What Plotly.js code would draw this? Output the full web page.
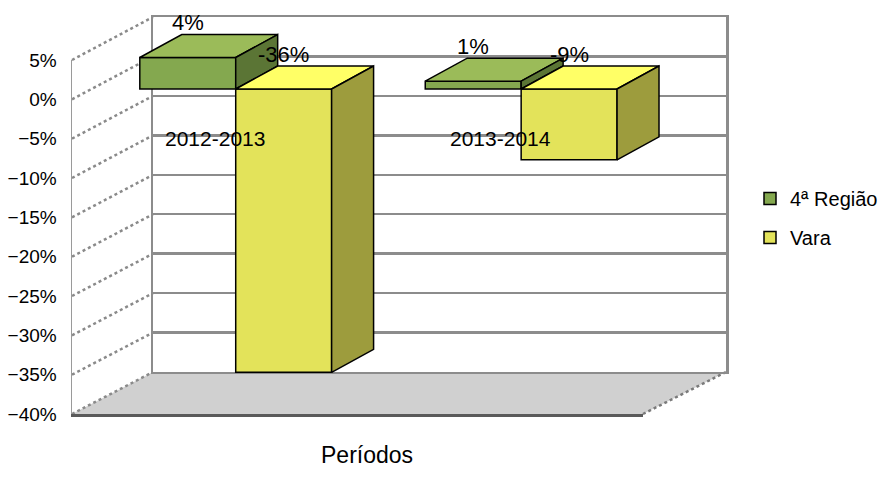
<!DOCTYPE html>
<html>
<head>
<meta charset="utf-8">
<script src="https://cdn.plot.ly/plotly-3.0.1.min.js"></script>
<style>html,body{margin:0;padding:0;background:#fff;}#chart{width:887px;height:479px;}</style>
</head>
<body>
<div id="chart"></div>
<script>
// ---- data ----
const categories = ['2012-2013', '2013-2014'];
const seriesNames = ['4ª Região', 'Vara'];
const regiao = [4, 1];
const vara = [-36, -9];
const axisTitle = 'Períodos';
const yMin = -40, yMax = 5, yStep = 5;

// ---- styling ----
const FONT = 'Liberation Sans, Arial, sans-serif';
const faceColors = [
  {front: '#84A84F', top: '#9BBB59', side: '#5B7535'},
  {front: '#E3E35A', top: '#FFFF66', side: '#9D9C3D'}
];
const barW = 0.336;        // width of one bar in category units
const depthX = 0.147;      // depth offset (category units)
const depthY = 2.92;       // depth offset (value units)

// domains (paper fractions)
const backX = [0.1239, 1], backY = [0.1058, 1];
const frontX = [0, 0.873], frontY = [0, 0.8917];
const barX = [0.0321, 0.905];

const traces = [];
// empty trace so that the back-wall subplot exists
traces.push({type: 'scatter', mode: 'markers', x: [null], y: [null], xaxis: 'x', yaxis: 'y',
  showlegend: false, hoverinfo: 'skip'});
const series = [regiao, vara];
series.forEach((vals, k) => {
  traces.push({
    type: 'bar', name: seriesNames[k], legendgroup: 'g' + k,
    x: categories.map((_, i) => i), y: vals,
    xaxis: 'x3', yaxis: 'y3',
    width: barW, offset: k === 0 ? -barW : 0,
    marker: {color: faceColors[k].front, line: {color: '#000', width: 1.5}},
    hoverinfo: 'skip'
  });
});
// 3D faces computed from the values
series.forEach((vals, k) => {
  vals.forEach((v, i) => {
    const l = i + (k === 0 ? -barW : 0), r = l + barW;
    const hi = Math.max(v, 0), lo = Math.min(v, 0);
    traces.push({
      type: 'scatter', mode: 'lines', fill: 'toself', xaxis: 'x3', yaxis: 'y3',
      x: [l, r, r + depthX, l + depthX, l], y: [hi, hi, hi + depthY, hi + depthY, hi],
      fillcolor: faceColors[k].top, line: {color: '#000', width: 1.5},
      showlegend: false, hoverinfo: 'skip'
    });
    traces.push({
      type: 'scatter', mode: 'lines', fill: 'toself', xaxis: 'x3', yaxis: 'y3',
      x: [r, r, r + depthX, r + depthX, r], y: [lo, hi, hi + depthY, lo + depthY, lo],
      fillcolor: faceColors[k].side, line: {color: '#000', width: 1.5},
      showlegend: false, hoverinfo: 'skip'
    });
  });
});

const annotations = [];
series.forEach((vals, k) => {
  vals.forEach((v, i) => {
    annotations.push({
      xref: 'x3', yref: 'y3', x: i + (k === 0 ? -barW / 2 : barW / 2), y: Math.max(v, 0),
      yshift: 35, text: v + '%', showarrow: false,
      font: {family: FONT, size: 22, color: '#000'}
    });
  });
});
categories.forEach((c, i) => {
  annotations.push({
    xref: 'x2', yref: 'y2', x: i, y: -5, text: c, showarrow: false,
    font: {family: FONT, size: 21, color: '#000'}
  });
});
annotations.push({
  xref: 'paper', yref: 'paper', x: 0.451, y: -0.141, text: axisTitle, showarrow: false,
  font: {family: FONT, size: 23, color: '#000'}
});

// side wall and floor decoration
const shapes = [];
shapes.push({
  type: 'path', xref: 'paper', yref: 'paper', layer: 'below',
  path: `M ${frontX[0]},${frontY[0]} L ${frontX[1]},${frontY[0]} L ${backX[1]},${backY[0]} L ${backX[0]},${backY[0]} Z`,
  fillcolor: '#D0D0D0', line: {width: 0}
});
shapes.push({
  type: 'line', xref: 'paper', yref: 'paper', layer: 'below',
  x0: frontX[1], y0: frontY[0], x1: backX[1], y1: backY[0],
  line: {color: '#7a7a7a', width: 2.5, dash: 'dot'}
});
for (let v = yMin; v <= yMax; v += yStep) {
  const f = (v - yMin) / (yMax - yMin);
  shapes.push({
    type: 'line', xref: 'paper', yref: 'paper', layer: 'below',
    x0: frontX[0], y0: frontY[0] + f * (frontY[1] - frontY[0]),
    x1: backX[0], y1: backY[0] + f * (backY[1] - backY[0]),
    line: {color: '#8a8a8a', width: 2.5, dash: 'dot'}
  });
}

const layout = {
  width: 887, height: 479,
  margin: {l: 72, r: 161, t: 17, b: 65, autoexpand: false},
  paper_bgcolor: '#fff', plot_bgcolor: 'rgba(0,0,0,0)',
  font: {family: FONT, color: '#000'},
  barmode: 'overlay',
  showlegend: true,
  legend: {x: 1.0367, xanchor: 'left', y: 0.494, yanchor: 'middle',
    font: {family: FONT, size: 20, color: '#000'}, bgcolor: 'rgba(0,0,0,0)',
    traceorder: 'grouped', tracegroupgap: 10},
  xaxis: {domain: backX, anchor: 'y', range: [0, 1], showgrid: false, zeroline: false,
    showticklabels: false, ticks: '', showline: true, mirror: true, linecolor: '#8c8c8c', linewidth: 2.5, fixedrange: true},
  yaxis: {domain: backY, anchor: 'x', range: [yMin, yMax], dtick: yStep, tick0: 0, showgrid: true,
    gridcolor: '#8c8c8c', gridwidth: 2.5, zeroline: false, showticklabels: false, ticks: '',
    showline: true, mirror: true, linecolor: '#8c8c8c', linewidth: 2.5, fixedrange: true},
  xaxis2: {domain: frontX, anchor: 'y2', range: [-0.5, 1.5], showgrid: false, zeroline: false,
    showticklabels: false, ticks: '', showline: true, linecolor: '#5a5a5a', linewidth: 2.5, fixedrange: true},
  yaxis2: {domain: frontY, anchor: 'x2', range: [yMin, yMax], dtick: yStep, tick0: 0, ticksuffix: '%',
    showgrid: false, zeroline: false, ticks: '', showline: true, linecolor: '#9a9a9a', linewidth: 1.5,
    tickfont: {family: FONT, size: 19, color: '#000'}, ticklabelstandoff: 10, fixedrange: true},
  xaxis3: {domain: barX, anchor: 'y3', range: [-0.5, 1.5], visible: false, fixedrange: true},
  yaxis3: {domain: [0, 1], anchor: 'x3', range: [-41.30, 9.15], visible: false, fixedrange: true},
  annotations: annotations,
  shapes: shapes
};

Plotly.newPlot('chart', traces, layout, {staticPlot: true, displayModeBar: false});
</script>
</body>
</html>
